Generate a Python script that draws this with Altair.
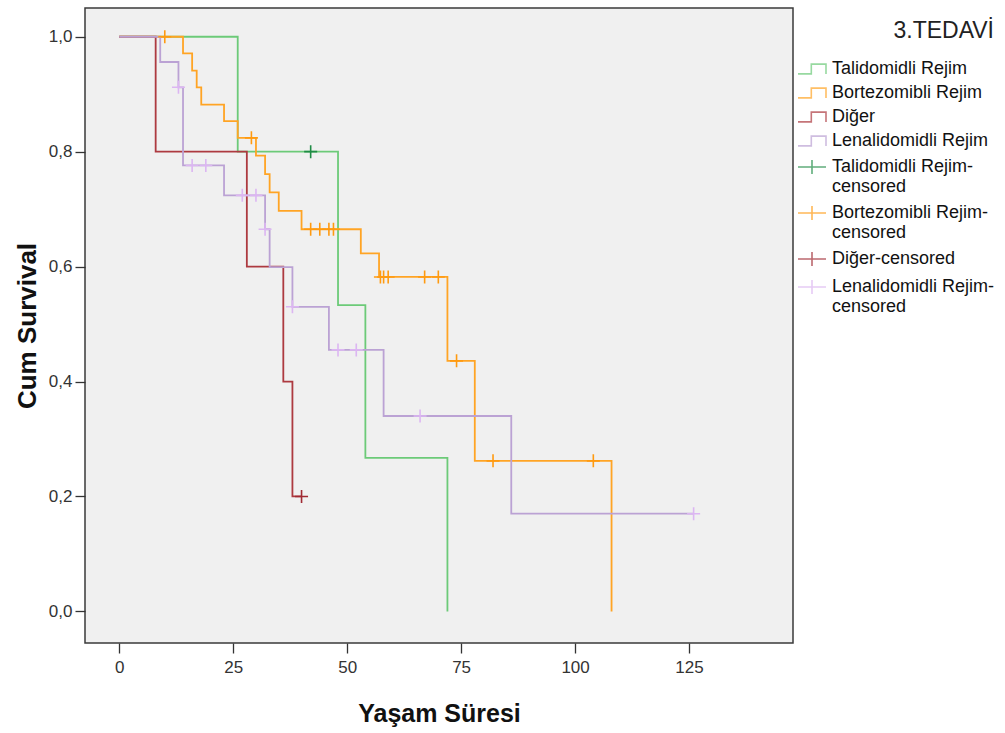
import altair as alt
import pandas as pd

# ---- data (Kaplan-Meier steps) ----
labels_line = ["Talidomidli Rejim", "Bortezomibli Rejim", "Diğer", "Lenalidomidli Rejim"]
labels_cens = ["Talidomidli Rejim-censored", "Bortezomibli Rejim-censored",
               "Diğer-censored", "Lenalidomidli Rejim-censored"]

tal_t = [0, 26, 48, 54, 72]
tal_s = [1.0, 0.8, 0.533, 0.267, 0.0]
tal_ct = [42]
tal_cs = [0.8]

bor_t = [0, 14, 16, 17, 18, 23, 26, 30, 32, 33, 35, 40, 53, 57, 72, 78, 108]
bor_s = [1.0, 0.971, 0.941, 0.912, 0.882, 0.853, 0.824, 0.793, 0.761, 0.729,
         0.697, 0.665, 0.623, 0.582, 0.436, 0.262, 0.0]
bor_ct = [10, 29, 42, 44, 46, 47, 57.3, 58, 59, 67, 70, 74, 82, 104]
bor_cs = [1.0, 0.824, 0.665, 0.665, 0.665, 0.665, 0.582, 0.582, 0.582, 0.582,
          0.582, 0.436, 0.262, 0.262]

dig_t = [0, 8, 28, 36, 38, 40]
dig_s = [1.0, 0.8, 0.6, 0.4, 0.2, 0.2]
dig_ct = [40]
dig_cs = [0.2]

len_t = [0, 9, 13, 14, 23, 32, 33, 38, 46, 58, 86, 126]
len_s = [1.0, 0.956, 0.912, 0.776, 0.724, 0.665, 0.599, 0.53, 0.455, 0.34, 0.17, 0.17]
len_ct = [13, 16, 19, 27, 30, 32, 38, 48, 52, 66, 126]
len_cs = [0.912, 0.776, 0.776, 0.724, 0.724, 0.665, 0.53, 0.455, 0.455, 0.34, 0.17]

line_colors = ["#6cca78", "#ffa424", "#ad3a40", "#bba2d4"]
cens_colors = ["#1f8c45", "#ff9a10", "#a02a33", "#dcb6f2"]

x_ticks = [0, 25, 50, 75, 100, 125]
y_ticks = [0.0, 0.2, 0.4, 0.6, 0.8, 1.0]

# ---- tables ----
line_rows = []
for lab, ts, ss in zip(labels_line, [tal_t, bor_t, dig_t, len_t], [tal_s, bor_s, dig_s, len_s]):
    for i, (t, s) in enumerate(zip(ts, ss)):
        line_rows.append({"t": t, "s": s, "label": lab, "ord": i})
lines_df = pd.DataFrame(line_rows)

cens_rows = []
for lab, ts, ss in zip(labels_cens, [tal_ct, bor_ct, dig_ct, len_ct], [tal_cs, bor_cs, dig_cs, len_cs]):
    for t, s in zip(ts, ss):
        cens_rows.append({"t": t, "s": s, "label": lab})
cens_df = pd.DataFrame(cens_rows)

all_labels = labels_line + labels_cens
# legend glyphs (wider than the unit box on purpose)
step_path = "M-2,0.7L-0.1,0.7L-0.1,-0.7L2,-0.7L2,0.7"
leg_plus_path = "M-2,0L2,0M0,-1L0,1"
shape_range = [step_path] * 4 + [leg_plus_path] * 4
# censor glyph in the plot
plot_plus_path = "M-1,0L1,0M0,-1L0,1"

color_scale = alt.Scale(domain=all_labels, range=line_colors + cens_colors)
shape_scale = alt.Scale(domain=all_labels, range=shape_range)

x_enc = alt.X("t:Q", title="Yaşam Süresi",
              scale=alt.Scale(domain=[-7.5, 147.8], nice=False, zero=False),
              axis=alt.Axis(values=x_ticks, grid=False, domain=False, tickSize=10,
                            labelFontSize=17, labelPadding=6, titlePadding=26,
                            titleFontSize=25, titleFontWeight="bold"))
y_enc = alt.Y("s:Q", title="Cum Survival",
              scale=alt.Scale(domain=[-0.055, 1.05], nice=False, zero=False),
              axis=alt.Axis(values=y_ticks, grid=False, domain=False, tickSize=10,
                            labelExpr="replace(format(datum.value, '.1f'), '.', ',')",
                            labelFontSize=17, labelPadding=3, titlePadding=8,
                            titleFontSize=26, titleFontWeight="bold"))

legend = alt.Legend(
    title="3.TEDAVİ", orient="none", legendX=718, legendY=12,
    titleFontSize=23, titleFontWeight="normal", titleColor="#222",
    titleAnchor="end", titlePadding=17,
    labelFontSize=18, labelColor="#111", labelOffset=11, labelLimit=300,
    symbolSize=196, symbolStrokeWidth=1.6, rowPadding=6,
    labelExpr="indexof(datum.label, 'Rejim-') >= 0 ? [slice(datum.label, 0, indexof(datum.label, '-') + 1), 'censored'] : datum.label",
)

# layer that carries the merged colour+shape legend (zero-size marks in the plot)
legend_layer = alt.Chart(cens_df).mark_point(filled=False, size=0, strokeWidth=1.6).encode(
    x=x_enc, y=y_enc,
    color=alt.Color("label:N", scale=color_scale, legend=legend),
    shape=alt.Shape("label:N", scale=shape_scale, legend=legend),
)

lines = alt.Chart(lines_df).mark_line(interpolate="step-after", strokeWidth=1.8).encode(
    x=x_enc, y=y_enc,
    color=alt.Color("label:N", scale=color_scale, legend=legend),
    order=alt.Order("ord:Q"),
)

cens = alt.Chart(cens_df).mark_point(filled=False, size=169, strokeWidth=1.6,
                                     shape=plot_plus_path, opacity=1).encode(
    x=x_enc, y=y_enc,
    color=alt.Color("label:N", scale=color_scale, legend=legend),
)

chart = alt.layer(legend_layer, lines, cens).properties(
    width=708, height=635,
    autosize=alt.AutoSizeParams(type="none"),
    padding={"left": 85, "top": 8, "right": 212, "bottom": 90},
    background="white",
).configure_view(
    fill="#f0f0f0", stroke="#3a3a3a", strokeWidth=1.5
).configure_axis(
    labelFont="Liberation Sans", titleFont="Liberation Sans",
    labelColor="#333", titleColor="#111", tickColor="#333", tickWidth=1.3,
).configure_legend(
    labelFont="Liberation Sans", titleFont="Liberation Sans",
)

chart.save("out.html", embed_options={"renderer": "svg", "actions": False})
